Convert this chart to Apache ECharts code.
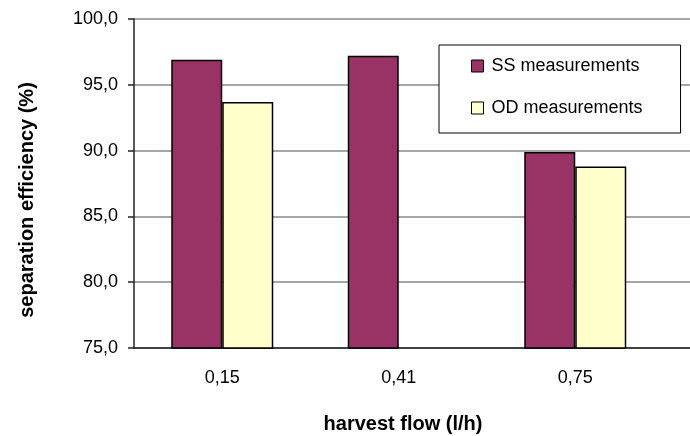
<!DOCTYPE html>
<html>
<head>
<meta charset="utf-8">
<script src="https://cdn.jsdelivr.net/npm/echarts@6/dist/echarts.min.js"></script>
<style>
  html, body { margin: 0; padding: 0; background: #fff; overflow: hidden; }
  /* the plot area continues past the right edge of the window */
  #chart { width: 840px; height: 436px; }
</style>
</head>
<body>
<div id="chart"></div>
<script>
// Harvest flow rates (l/h) on the x axis
const categories = ['0,15', '0,41', '0,75'];
// Separation efficiency (%) per method; null = no measurement
const ssValues = [96.9, 97.2, 89.9];
const odValues = [93.7, null, 88.8];
const seriesNames = ['SS measurements', 'OD measurements'];
const yTicks = [75, 80, 85, 90, 95, 100];

const FONT = 'Liberation Sans, Arial, sans-serif';
const chart = echarts.init(document.getElementById('chart'));

// An empty trailing slot fills the part of the plot outside the window.
const axisData = categories.concat(['']);

chart.setOption({
  animation: false,
  backgroundColor: '#fff',
  textStyle: { fontFamily: FONT },
  title: [
    {
      text: 'harvest flow (l/h)',
      left: 398, top: 409, textAlign: 'center',
      textStyle: { fontFamily: FONT, fontSize: 20, fontWeight: 'bold', color: '#000' }
    }
  ],
  graphic: [
    {
      type: 'text',
      x: 27, y: 200, rotation: Math.PI / 2,
      style: {
        text: 'separation efficiency (%)',
        font: 'bold 20px ' + FONT,
        fill: '#000',
        align: 'center',
        verticalAlign: 'middle'
      }
    }
  ],
  legend: {
    orient: 'vertical',
    left: 439, top: 45,
    data: seriesNames,
    icon: 'rect',
    itemWidth: 12, itemHeight: 12,
    itemGap: 24,
    padding: [12, 38, 16, 32],
    backgroundColor: '#fff',
    borderColor: '#000',
    borderWidth: 1,
    itemStyle: { borderColor: '#000', borderWidth: 1 },
    textStyle: { fontFamily: FONT, fontSize: 18, color: '#000', lineHeight: 18, padding: [0, 0, 0, 3] }
  },
  grid: { left: 134, top: 19, right: 0, bottom: 88 },
  xAxis: {
    type: 'category',
    data: axisData,
    axisLine: { lineStyle: { color: '#222', width: 1.5 } },
    axisTick: {
      length: 6,
      interval: function (i) { return i < categories.length; },
      lineStyle: { color: '#222', width: 1.5 }
    },
    axisLabel: { fontSize: 18, color: '#000', margin: 21, fontFamily: FONT }
  },
  yAxis: {
    type: 'value',
    min: yTicks[0],
    max: yTicks[yTicks.length - 1],
    interval: yTicks[1] - yTicks[0],
    axisLine: { show: true, lineStyle: { color: '#222', width: 1.5 } },
    axisTick: { show: true, length: 6, lineStyle: { color: '#222', width: 1.5 } },
    axisLabel: {
      fontSize: 18, color: '#000', margin: 16, fontFamily: FONT,
      formatter: function (v) { return v.toFixed(1).replace('.', ','); }
    },
    splitLine: { show: true, lineStyle: { color: '#888', width: 1.5 } }
  },
  series: [
    {
      name: seriesNames[0],
      type: 'bar',
      data: ssValues,
      barWidth: 51,
      barGap: '0%',
      itemStyle: { color: '#993366', borderColor: '#000', borderWidth: 1.5 }
    },
    {
      name: seriesNames[1],
      type: 'bar',
      data: odValues,
      barWidth: 51,
      barGap: '0%',
      itemStyle: { color: '#FFFFCC', borderColor: '#000', borderWidth: 1.5 }
    }
  ]
});
</script>
</body>
</html>
